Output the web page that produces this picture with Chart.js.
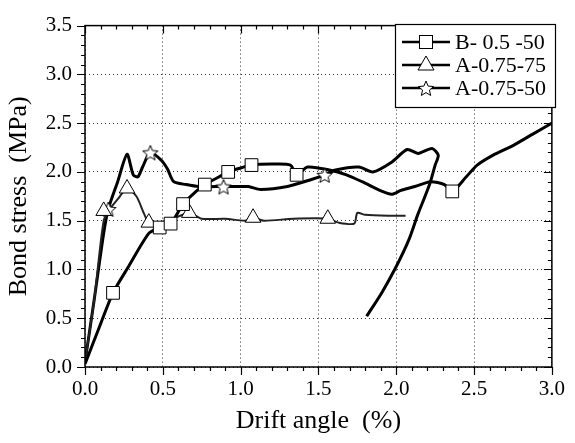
<!DOCTYPE html>
<html>
<head>
<meta charset="utf-8">
<script src="https://cdn.jsdelivr.net/npm/chart.js@4.4.0/dist/chart.umd.min.js"></script>
<style>
  html, body { margin: 0; padding: 0; background: #fff; }
</style>
</head>
<body>
<canvas id="bondChart" width="575" height="443"></canvas>
<script>
// B- 0.5 -50 (squares)
const bX = [0.0, 0.09, 0.18, 0.28, 0.41, 0.48, 0.55, 0.63, 0.70, 0.77, 0.85, 0.92, 1.00, 1.07, 1.20, 1.32, 1.36, 1.43, 1.57, 1.68, 1.78, 1.91, 1.97, 2.03, 2.12, 2.22, 2.31, 2.36, 2.45, 2.52, 2.62, 2.75, 2.88, 3.0];
const bY = [0.03, 0.40, 0.76, 1.03, 1.37, 1.43, 1.47, 1.67, 1.78, 1.87, 1.94, 2.00, 2.04, 2.07, 2.08, 2.07, 1.97, 2.05, 2.02, 1.97, 1.90, 1.80, 1.77, 1.81, 1.85, 1.90, 1.87, 1.80, 1.95, 2.07, 2.17, 2.27, 2.39, 2.50];
const bMarkX = [0.18, 0.48, 0.55, 0.63, 0.77, 0.92, 1.07, 1.36, 2.36];
const bMarkY = [0.76, 1.43, 1.47, 1.67, 1.87, 2.00, 2.07, 1.97, 1.80];

// A-0.75-75 (triangles)
const a75X = [0.0, 0.06, 0.12, 0.16, 0.21, 0.27, 0.33, 0.38, 0.41, 0.47, 0.52, 0.58, 0.67, 0.75, 0.90, 1.03, 1.08, 1.15, 1.34, 1.56, 1.63, 1.73, 1.75, 1.80, 1.95, 2.06];
const a75Y = [0.05, 0.70, 1.50, 1.62, 1.72, 1.83, 1.75, 1.57, 1.48, 1.47, 1.50, 1.53, 1.58, 1.52, 1.52, 1.50, 1.53, 1.50, 1.52, 1.52, 1.48, 1.47, 1.58, 1.56, 1.55, 1.55];
const a75MarkX = [0.12, 0.27, 0.41, 0.67, 1.08, 1.56];
const a75MarkY = [1.60, 1.83, 1.48, 1.58, 1.53, 1.52];

// A-0.75-50 (stars)
const a50X = [0.0, 0.06, 0.12, 0.15, 0.21, 0.27, 0.31, 0.34, 0.37, 0.42, 0.49, 0.53, 0.57, 0.65, 0.73, 0.89, 1.00, 1.05, 1.13, 1.30, 1.45, 1.54, 1.61, 1.76, 1.85, 1.97, 2.07, 2.14, 2.23, 2.27, 2.25, 2.22, 2.18, 2.14, 2.08, 2.00, 1.91, 1.81];
const a50Y = [0.05, 0.70, 1.37, 1.62, 1.90, 2.18, 1.97, 1.95, 2.05, 2.20, 2.12, 2.03, 1.90, 1.87, 1.85, 1.85, 1.85, 1.85, 1.82, 1.85, 1.92, 1.97, 2.02, 2.05, 2.00, 2.10, 2.23, 2.19, 2.24, 2.17, 2.07, 1.90, 1.73, 1.57, 1.30, 1.03, 0.77, 0.52];
const a50MarkX = [0.15, 0.42, 0.89, 1.54];
const a50MarkY = [1.62, 2.20, 1.85, 1.97];

const legendLabels = ['B- 0.5 -50', 'A-0.75-75', 'A-0.75-50'];
const xTicks = [0.0, 0.5, 1.0, 1.5, 2.0, 2.5, 3.0];
const yTicks = [0.0, 0.5, 1.0, 1.5, 2.0, 2.5, 3.0, 3.5];

const FONT = "'Liberation Serif', 'Times New Roman', serif";

function toPoints(xs, ys) {
  return xs.map((x, i) => ({ x: x, y: ys[i] }));
}

// hollow five point star used as marker
function makeStar(r) {
  const c = document.createElement('canvas');
  const s = Math.ceil(r * 2 + 4);
  c.width = s; c.height = s;
  const g = c.getContext('2d');
  g.beginPath();
  for (let k = 0; k < 10; k++) {
    const rad = k % 2 ? r * 0.45 : r;
    const a = -Math.PI / 2 + k * Math.PI / 5;
    const px = s / 2 + rad * Math.cos(a);
    const py = s / 2 + 1 + rad * Math.sin(a);
    if (k === 0) g.moveTo(px, py); else g.lineTo(px, py);
  }
  g.closePath();
  g.fillStyle = '#fff';
  g.fill();
  g.lineWidth = 1;
  g.strokeStyle = '#000';
  g.stroke();
  return c;
}
const starImg = makeStar(8);

function lineSet(xs, ys, width, color) {
  return {
    data: toPoints(xs, ys),
    borderColor: color,
    borderWidth: width,
    pointRadius: 0,
    tension: 0.25,
    fill: false,
    order: 2
  };
}

function markSet(xs, ys, style, radius) {
  return {
    data: toPoints(xs, ys),
    showLine: false,
    pointStyle: style,
    pointRadius: radius,
    pointBackgroundColor: '#fff',
    pointBorderColor: '#000',
    pointBorderWidth: 1,
    order: 1
  };
}

// frame with origin-style ticks: out on left/bottom, in on top/right
const framePlugin = {
  id: 'frame',
  afterDatasetsDraw(chart) {
    const { ctx, chartArea: a, scales } = chart;
    ctx.save();
    ctx.strokeStyle = '#000';
    ctx.lineWidth = 1.5;
    ctx.strokeRect(a.left, a.top, a.right - a.left, a.bottom - a.top);
    ctx.lineWidth = 1.2;
    ctx.beginPath();
    for (let i = 0; i <= 35; i++) {
      const py = Math.round(scales.y.getPixelForValue(i / 10)) + 0.5;
      const len = i % 5 === 0 ? 8 : 4;
      ctx.moveTo(a.left, py); ctx.lineTo(a.left - len, py);
      ctx.moveTo(a.right, py); ctx.lineTo(a.right - len, py);
    }
    for (let i = 0; i <= 30; i++) {
      const px = Math.round(scales.x.getPixelForValue(i / 10)) + 0.5;
      const len = i % 5 === 0 ? 8 : 4;
      ctx.moveTo(px, a.bottom); ctx.lineTo(px, a.bottom + len);
      ctx.moveTo(px, a.top); ctx.lineTo(px, a.top + len);
    }
    ctx.stroke();
    ctx.restore();
  }
};

const legendPlugin = {
  id: 'boxLegend',
  afterDraw(chart) {
    const ctx = chart.ctx;
    const bx = 395, by = 24, bw = 160, bh = 83;
    ctx.save();
    ctx.fillStyle = '#fff';
    ctx.fillRect(bx, by, bw, bh);
    ctx.strokeStyle = '#000';
    ctx.lineWidth = 1.2;
    ctx.strokeRect(bx + 0.5, by + 0.5, bw, bh);
    const rows = [42, 65, 88];
    rows.forEach((ry, i) => {
      ctx.strokeStyle = '#000';
      ctx.lineWidth = 2.5;
      ctx.beginPath();
      ctx.moveTo(402, ry); ctx.lineTo(450, ry);
      ctx.stroke();
      const mx = 426;
      ctx.fillStyle = '#fff';
      ctx.lineWidth = 1;
      if (i === 0) {
        ctx.fillRect(mx - 6.5, ry - 6.5, 13, 13);
        ctx.strokeRect(mx - 6.5, ry - 6.5, 13, 13);
      } else if (i === 1) {
        ctx.beginPath();
        ctx.moveTo(mx, ry - 9); ctx.lineTo(mx + 8, ry + 5); ctx.lineTo(mx - 8, ry + 5);
        ctx.closePath(); ctx.fill(); ctx.stroke();
      } else {
        ctx.drawImage(starImg, mx - starImg.width / 2, ry - starImg.height / 2);
      }
      ctx.fillStyle = '#000';
      ctx.font = '22px ' + FONT;
      ctx.textBaseline = 'middle';
      ctx.fillText(legendLabels[i], 455, ry + 1);
    });
    ctx.restore();
  }
};

const gridOpts = { color: '#333', lineWidth: 1, drawTicks: false };

new Chart(document.getElementById('bondChart'), {
  type: 'line',
  data: {
    datasets: [
      markSet(bMarkX, bMarkY, 'rect', 9),
      markSet(a75MarkX, a75MarkY, 'triangle', 9),
      markSet(a50MarkX, a50MarkY, starImg, 8),
      lineSet(bX, bY, 3, '#000'),
      lineSet(a75X, a75Y, 2, '#222'),
      lineSet(a50X, a50Y, 3, '#000')
    ]
  },
  options: {
    responsive: false,
    animation: false,
    layout: { padding: { top: 16, right: 15, left: 0, bottom: 0 } },
    plugins: { legend: { display: false }, tooltip: { enabled: false } },
    scales: {
      x: {
        type: 'linear',
        min: 0, max: 3,
        afterBuildTicks: s => { s.ticks = xTicks.map(v => ({ value: v })); },
        afterFit: s => { s.height = 76; },
        grid: gridOpts,
        border: { display: false, dash: [1, 3] },
        ticks: {
          padding: 10,
          color: '#000',
          font: { family: FONT, size: 21 },
          callback: v => v.toFixed(1),
          maxRotation: 0
        },
        title: {
          display: true,
          text: 'Drift angle  (%)',
          color: '#000',
          font: { family: FONT, size: 26 },
          padding: { top: 0, bottom: 6 }
        }
      },
      y: {
        type: 'linear',
        min: 0, max: 3.5,
        afterBuildTicks: s => { s.ticks = yTicks.map(v => ({ value: v })); },
        afterFit: s => { s.width = 85; },
        grid: gridOpts,
        border: { display: false, dash: [1, 3] },
        ticks: {
          padding: 13,
          color: '#000',
          font: { family: FONT, size: 21 },
          callback: v => v.toFixed(1)
        },
        title: {
          display: true,
          text: 'Bond stress  (MPa)',
          color: '#000',
          font: { family: FONT, size: 26 },
          padding: { top: 4, bottom: 0 }
        }
      }
    }
  },
  plugins: [framePlugin, legendPlugin]
});
</script>
</body>
</html>
